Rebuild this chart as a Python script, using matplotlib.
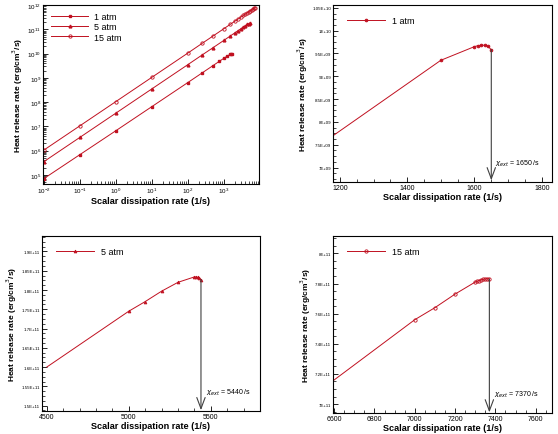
import matplotlib
matplotlib.use("Agg")
import matplotlib.pyplot as plt
from matplotlib.ticker import AutoMinorLocator, FuncFormatter, LogLocator, NullFormatter
import numpy as np

plt.rcParams['font.family'] = ['Liberation Sans', 'DejaVu Sans']
plt.rcParams['mathtext.fontset'] = 'dejavusans'

RED = '#c01020'
GRAY = '#404040'

# ---- full-range (log-log) data ----
chi_1atm = [0.01, 0.1, 1, 10, 100, 250, 500, 750, 1000, 1250, 1500, 1600, 1650]
hrr_1atm = [7.0e4, 6.8e5, 6.6e6, 6.5e7, 6.4e8, 1.6e9, 3.2e9, 4.8e9, 6.4e9, 7.9e9, 9.35e9, 9.65e9, 9.6e9]

chi_5atm = [0.01, 0.1, 1, 10, 100, 250, 500, 1000, 1500, 2000, 2500, 3000, 3500, 4000, 4500, 5000, 5440]
hrr_5atm = [3.5e5, 3.5e6, 3.5e7, 3.5e8, 3.5e9, 8.8e9, 1.75e10, 3.5e10, 5.3e10, 7.1e10, 8.9e10,
            1.07e11, 1.25e11, 1.43e11, 1.6e11, 1.745e11, 1.83e11]

chi_15atm = [0.01, 0.1, 1, 10, 100, 250, 500, 1000, 1500, 2000, 2500, 3000, 3500, 4000, 4500,
             5000, 5500, 6000, 6500, 7000, 7370]
hrr_15atm = [1.05e6, 1.05e7, 1.05e8, 1.05e9, 1.05e10, 2.65e10, 5.3e10, 1.06e11, 1.6e11, 2.14e11,
             2.68e11, 3.22e11, 3.76e11, 4.3e11, 4.85e11, 5.4e11, 5.95e11, 6.5e11, 7.05e11, 7.56e11, 7.83e11]

# ---- near-extinction data ----
near_chi_1 = [1000, 1500, 1600, 1610, 1620, 1630, 1640, 1650]
near_hrr_1 = [6.77e9, 9.35e9, 9.65e9, 9.67e9, 9.68e9, 9.68e9, 9.66e9, 9.58e9]

near_chi_5 = [4500, 5000, 5100, 5200, 5300, 5400, 5410, 5420, 5430, 5440]
near_hrr_5 = [1.6e11, 1.745e11, 1.77e11, 1.797e11, 1.82e11, 1.834e11, 1.834e11, 1.833e11, 1.831e11, 1.827e11]

near_chi_15 = [6500, 7000, 7100, 7200, 7300, 7310, 7320, 7330, 7340, 7350, 7360, 7370]
near_hrr_15 = [7.06e11, 7.56e11, 7.64e11, 7.73e11, 7.81e11, 7.815e11, 7.82e11, 7.825e11, 7.828e11,
               7.83e11, 7.832e11, 7.83e11]

chi_ext = [1650, 5440, 7370]
labels = ['1 atm', '5 atm', '15 atm']

fig = plt.figure(figsize=(5.58, 4.35), dpi=100)

pos = {
    'tl': [0.077, 0.575, 0.387, 0.412],
    'tr': [0.597, 0.579, 0.392, 0.407],
    'bl': [0.075, 0.052, 0.391, 0.403],
    'br': [0.597, 0.048, 0.392, 0.407],
}

def style(ax):
    ax.tick_params(which='both', direction='in', top=False, right=False, labelsize=4.5, pad=1.5)
    ax.tick_params(which='major', length=3.5, width=0.6)
    ax.tick_params(which='minor', length=2, width=0.5)
    for s in ax.spines.values():
        s.set_linewidth(0.8)
    ax.set_xlabel('Scalar dissipation rate (1/s)', fontsize=6.6, fontweight='bold', labelpad=0.5)
    ax.set_ylabel('Heat release rate (erg/cm$^3$/s)', fontsize=6.0, fontweight='bold', labelpad=1.5)

def efmt(v, p):
    if v == 0:
        return '0'
    s = f"{v:.2E}"
    mant, ex = s.split('E')
    mant = mant.rstrip('0').rstrip('.')
    return f"{mant}E{ex}"

# top-left log-log
ax = fig.add_axes(pos['tl'])
ax.plot(chi_1atm, hrr_1atm, '-', color=RED, lw=0.7, marker='s', ms=2, mfc=RED, mec=RED, label=labels[0])
ax.plot(chi_5atm, hrr_5atm, '-', color=RED, lw=0.7, marker='^', ms=2, mfc=RED, mec=RED, label=labels[1])
ax.plot(chi_15atm, hrr_15atm, '-', color=RED, lw=0.7, marker='o', ms=2.4, mfc='none', mec=RED, mew=0.6, label=labels[2])
ax.set_xscale('log')
ax.set_yscale('log')
ax.set_xlim(0.0095, 9500)
ax.set_ylim(10**4.63, 1.05e12)
ax.xaxis.set_major_locator(LogLocator(base=10, numticks=20))
ax.yaxis.set_major_locator(LogLocator(base=10, numticks=20))
ax.xaxis.set_minor_locator(LogLocator(base=10, subs=np.arange(2, 10), numticks=20))
ax.yaxis.set_minor_locator(LogLocator(base=10, subs=np.arange(2, 10), numticks=20))
ax.xaxis.set_minor_formatter(NullFormatter())
ax.yaxis.set_minor_formatter(NullFormatter())
style(ax)
ax.legend(loc='upper left', bbox_to_anchor=(0.01, 0.99), frameon=False, fontsize=6.5,
          handlelength=4.2, handletextpad=0.6, labelspacing=0.15, borderaxespad=0.2)

def near_panel(key, x, y, marker, mfc, label, xlim, ylim, xticks, yticks, xminor, yminor, ext, txt_xy, arrow_end, ms=2):
    ax = fig.add_axes(pos[key])
    ax.plot(x, y, '-', color=RED, lw=0.7)
    ax.plot(x[1:], y[1:], ls='none', marker=marker, ms=ms, mfc=mfc, mec=RED, mew=0.6)
    h, = ax.plot([], [], '-', color=RED, lw=0.7, marker=marker, ms=ms, mfc=mfc, mec=RED, mew=0.6)
    ax.set_xlim(*xlim)
    ax.set_ylim(*ylim)
    ax.set_xticks(xticks)
    ax.set_yticks(yticks)
    ax.xaxis.set_minor_locator(AutoMinorLocator(xminor))
    ax.yaxis.set_minor_locator(AutoMinorLocator(yminor))
    ax.yaxis.set_major_formatter(FuncFormatter(efmt))
    style(ax)
    ax.tick_params(axis='y', labelsize=3.2)
    ax.tick_params(axis='x', labelsize=5)
    ax.legend([h], [label], loc='upper left', bbox_to_anchor=(0.04, 0.97), frameon=False, fontsize=6.5,
              handlelength=4.2, handletextpad=0.8, borderaxespad=0.2)
    ax.annotate('', xy=(ext, arrow_end), xytext=(x[-1], y[-1]),
                arrowprops=dict(arrowstyle='->,head_length=0.8,head_width=0.3', color=GRAY, lw=0.8,
                                shrinkA=0, shrinkB=0))
    ax.text(txt_xy[0], txt_xy[1], r'$\chi_{ext}$' + f' = {ext} /s', fontsize=5, va='center', ha='left')
    return ax

near_panel('tr', near_chi_1, near_hrr_1, 'o', RED, labels[0], (1180, 1830), (6.68e9, 1.056e10),
           [1200, 1400, 1600, 1800], np.arange(7e9, 1.051e10, 0.5e9), 4, 4,
           chi_ext[0], (1662, 7.1e9), 6.72e9)

near_panel('bl', near_chi_5, near_hrr_5, '^', RED, labels[1], (4470, 5800), (1.485e11, 1.94e11),
           [4500, 5000, 5500], np.arange(1.5e11, 1.901e11, 0.05e11), 5, 4,
           chi_ext[1], (5470, 1.535e11), 1.488e11)

near_panel('br', near_chi_15, near_hrr_15, 'o', 'none', labels[2], (6595, 7680), (6.94e11, 8.115e11),
           [6600, 6800, 7000, 7200, 7400, 7600], np.arange(7.0e11, 8.01e11, 0.2e11), 4, 4,
           chi_ext[2], (7392, 7.07e11), 6.945e11, ms=2.4)

fig.savefig('out.png', dpi=100)
